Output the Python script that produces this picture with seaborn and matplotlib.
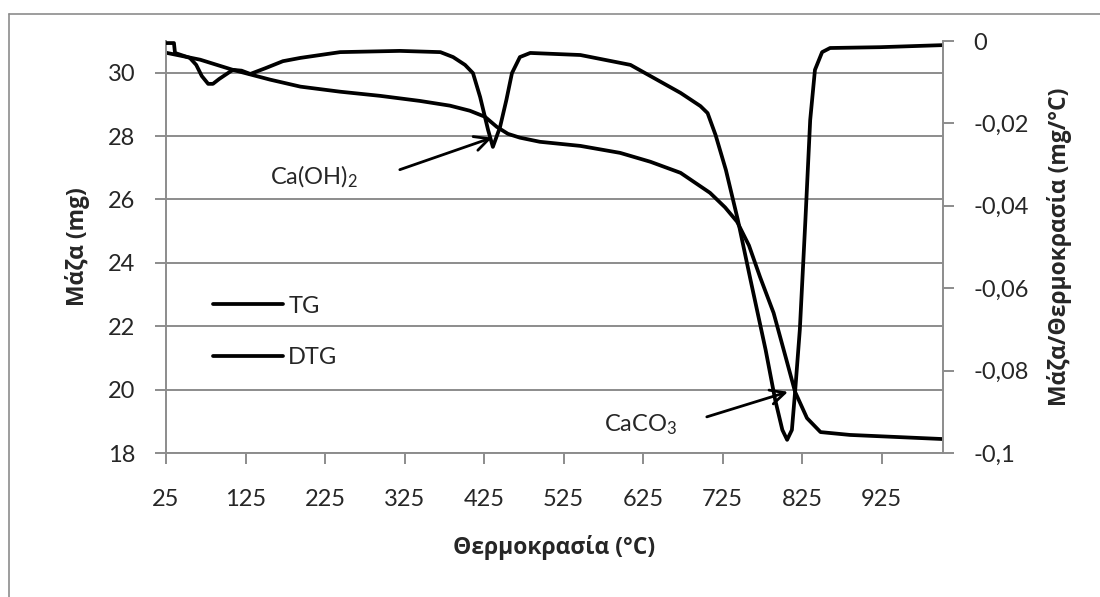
import matplotlib
matplotlib.use("Agg")
import matplotlib.pyplot as plt
from matplotlib.lines import Line2D
import seaborn as sns
import pandas as pd

# Thermogravimetric curve: temperature (°C) and sample mass (mg)
tg_temp = [25, 68, 109, 156, 194, 244, 294, 344, 382, 407, 426, 441, 455, 470,
           495, 546, 596, 634, 672, 709, 728, 743, 758, 772, 789, 805, 816, 831,
           848, 885, 1002]
tg_mass = [30.63, 30.41, 30.09, 29.78, 29.56, 29.40, 29.27, 29.11, 28.96, 28.80,
           28.61, 28.29, 28.07, 27.95, 27.82, 27.69, 27.47, 27.19, 26.84, 26.21,
           25.75, 25.30, 24.55, 23.55, 22.42, 20.95, 19.93, 19.10, 18.66, 18.57,
           18.44]

# Derivative curve: temperature (°C) and mass change rate (mg/°C)
dtg_temp = [25, 35, 36.3, 55, 63, 70, 78, 84, 92, 109, 120, 131, 150, 172, 194,
            219, 244, 319, 370, 386, 401, 411, 420, 430, 436, 445, 453, 460, 470,
            483, 546, 609, 672, 697, 706, 716, 729, 744, 760, 779, 791, 800, 806,
            812, 816, 822, 829, 835, 841, 850, 860, 923, 1002]
dtg_rate = [-0.0005, -0.0005, -0.0029, -0.0041, -0.0058, -0.0085, -0.0104, -0.0104,
            -0.0092, -0.0070, -0.0072, -0.0080, -0.0066, -0.0049, -0.0041, -0.0034,
            -0.0027, -0.0024, -0.0027, -0.0039, -0.0058, -0.0078, -0.0136, -0.0216,
            -0.0257, -0.0209, -0.0143, -0.0078, -0.0039, -0.0029, -0.0034, -0.0058,
            -0.0126, -0.0158, -0.0175, -0.0228, -0.0313, -0.0434, -0.0580, -0.0750,
            -0.0871, -0.0944, -0.0968, -0.0944, -0.0852, -0.0700, -0.0434, -0.0192,
            -0.0070, -0.0027, -0.0017, -0.0015, -0.0010]

x_ticks = [25, 125, 225, 325, 425, 525, 625, 725, 825, 925]
left_ticks = [18, 20, 22, 24, 26, 28, 30]
right_ticks = [-0.1, -0.08, -0.06, -0.04, -0.02, 0]
right_tick_labels = ["-0,1", "-0,08", "-0,06", "-0,04", "-0,02", "0"]
series_labels = ["TG", "DTG"]

sns.set_theme(style="white")
plt.rcParams["font.family"] = ["Lato", "Open Sans", "DejaVu Sans"]
plt.rcParams["mathtext.default"] = "regular"

GRID = "#8c8c8c"
FS = 17
BOLD = dict(fontsize=16.5, fontweight="bold", family=["Open Sans", "DejaVu Sans"])

fig = plt.figure(figsize=(11, 5.97), dpi=100)
ax = fig.add_axes([166 / 1100, 1 - 453 / 597, 777 / 1100, 412 / 597])
ax2 = ax.twinx()

tg_df = pd.DataFrame({"temp": tg_temp, "mass": tg_mass})
dtg_df = pd.DataFrame({"temp": dtg_temp, "rate": dtg_rate})

sns.lineplot(data=tg_df, x="temp", y="mass", ax=ax, color="black", lw=2.7,
             sort=False, estimator=None, legend=False)
sns.lineplot(data=dtg_df, x="temp", y="rate", ax=ax2, color="black", lw=2.7,
             sort=False, estimator=None, legend=False)
for a in (ax, ax2):
    for ln in a.get_lines():
        ln.set_solid_joinstyle("round")

# Axis ranges and ticks
ax.set_xlim(25, 1002)
ax.set_ylim(18, 31)
ax2.set_ylim(-0.1, 0)
ax.set_xticks(x_ticks)
ax.set_yticks(left_ticks)
ax2.set_yticks(right_ticks)
ax2.set_yticklabels(right_tick_labels)

ax.yaxis.grid(True, color=GRID, lw=1.4)
ax.xaxis.grid(False)
ax2.grid(False)
ax.set_axisbelow(True)

for a in (ax, ax2):
    a.spines["top"].set_visible(False)
    for side in ("left", "right", "bottom"):
        a.spines[side].set_color(GRID)
        a.spines[side].set_linewidth(1.4)
ax2.spines["left"].set_visible(False)
ax2.spines["bottom"].set_visible(False)
ax.spines["right"].set_visible(False)

ax.tick_params(axis="x", direction="out", length=8, width=1.4, color=GRID,
               labelsize=FS, pad=18, bottom=True)
ax.tick_params(axis="y", direction="out", length=8, width=1.4, color=GRID,
               labelsize=FS, pad=14, left=True)
ax2.tick_params(axis="y", direction="out", length=8, width=1.4, color=GRID,
                labelsize=FS, pad=14, right=True)

ax.set_xlabel("Θερμοκρασία (°C)", labelpad=18, **BOLD)
ax.set_ylabel("Μάζα (mg)", labelpad=13, **BOLD)
ax2.set_ylabel("Μάζα/Θερμοκρασία (mg/°C)", labelpad=13, **BOLD)

# Legend combining both axes
handles = [Line2D([], [], color="black", lw=2.7), Line2D([], [], color="black", lw=2.7)]
ax.legend(handles, series_labels, loc="upper left", bbox_to_anchor=(0.06, 0.382),
          frameon=False, fontsize=FS, handlelength=3.0, handletextpad=0.2,
          labelspacing=1.3, borderpad=0, borderaxespad=0)

# Annotations for the decomposition steps
arrow = dict(arrowstyle="->", lw=2.0, color="black", mutation_scale=26,
             shrinkA=0, shrinkB=0)
ax.annotate("", xy=(435, 27.95), xytext=(319, 26.94), arrowprops=arrow)
ax.annotate("", xy=(807, 19.93), xytext=(705, 19.14), arrowprops=arrow)
ax.text(211, 26.71, "Ca(OH)$_2$", fontsize=FS, ha="center", va="center")
ax.text(622, 18.88, "CaCO$_3$", fontsize=FS, ha="center", va="center")

# Chart frame
fig.add_artist(Line2D([9 / 1100, 1], [1 - 14 / 597, 1 - 14 / 597],
                      color=GRID, lw=1.2, transform=fig.transFigure))
fig.add_artist(Line2D([9 / 1100, 9 / 1100], [0, 1 - 14 / 597],
                      color=GRID, lw=1.2, transform=fig.transFigure))

fig.savefig("out.png", dpi=100, facecolor="white")
